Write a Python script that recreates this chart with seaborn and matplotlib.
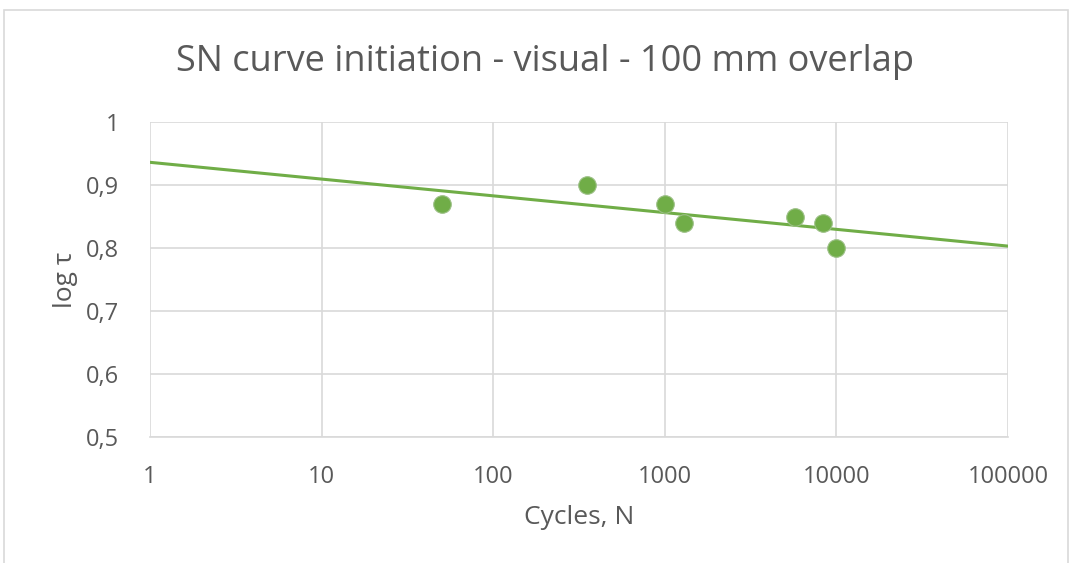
import matplotlib
matplotlib.use("Agg")
import matplotlib.pyplot as plt
import matplotlib.ticker as mticker
from matplotlib.patches import Rectangle
import seaborn as sns
import pandas as pd

# data
cycles = [50, 350, 1000, 1300, 5700, 8300, 10000]
log_tau = [0.87, 0.90, 0.87, 0.84, 0.85, 0.84, 0.80]
trend_x = [1, 100000]
trend_y = [0.936, 0.803]
x_ticks = [1, 10, 100, 1000, 10000, 100000]
y_ticks = [0.5, 0.6, 0.7, 0.8, 0.9, 1.0]

sns.set_theme(style="white")
plt.rcParams['font.family'] = ['Open Sans', 'DejaVu Sans']

txt = "#595959"
green = "#70AD47"
grid = "#D9D9D9"

fig = plt.figure(figsize=(10.73, 5.63), dpi=100)
ax = fig.add_axes([150/1073, 1-437/563, (1008-150)/1073, (437-122)/563])

df = pd.DataFrame({"N": cycles, "tau": log_tau})
tr = pd.DataFrame({"N": trend_x, "tau": trend_y})

sns.lineplot(data=tr, x="N", y="tau", ax=ax, color=green, linewidth=2.2, zorder=3)
sns.scatterplot(data=df, x="N", y="tau", ax=ax, color=green, s=160,
                edgecolor="#9BBF85", linewidth=0.8, zorder=4)

ax.set_xscale("log")
ax.set_xlim(1, 100000)
ax.set_ylim(0.5, 1.0)
ax.xaxis.set_major_locator(mticker.FixedLocator(x_ticks))
ax.xaxis.set_minor_locator(mticker.NullLocator())
ax.xaxis.set_major_formatter(mticker.FuncFormatter(lambda v, p: f"{int(round(v))}"))
ax.yaxis.set_major_locator(mticker.FixedLocator(y_ticks))
ax.yaxis.set_major_formatter(mticker.FuncFormatter(
    lambda v, p: "1" if abs(v-1) < 1e-9 else f"{v:.1f}".replace(".", ",")))

ax.grid(True, color=grid, linewidth=1.2)
for s in ["top", "right", "left"]:
    ax.spines[s].set_visible(False)
ax.spines["bottom"].set_color(grid)
ax.spines["bottom"].set_linewidth(1.2)
ax.tick_params(axis="both", length=0, labelsize=17, colors=txt)
ax.tick_params(axis="x", pad=20)
ax.tick_params(axis="y", pad=22)

ax.set_xlabel("Cycles, N", fontsize=19, color=txt, labelpad=12)
ax.set_ylabel("log τ", fontsize=19, color=txt, labelpad=6)

fig.text(545/1073, 1-62/563, "SN curve initiation - visual - 100 mm overlap",
         ha="center", va="center", fontsize=26, color=txt)

fig.patches.append(Rectangle((4/1073, -0.05), (1068-4)/1073, 1.05-10/563,
                             transform=fig.transFigure, fill=False,
                             edgecolor=grid, linewidth=1.2))

fig.savefig("out.png", dpi=100)
